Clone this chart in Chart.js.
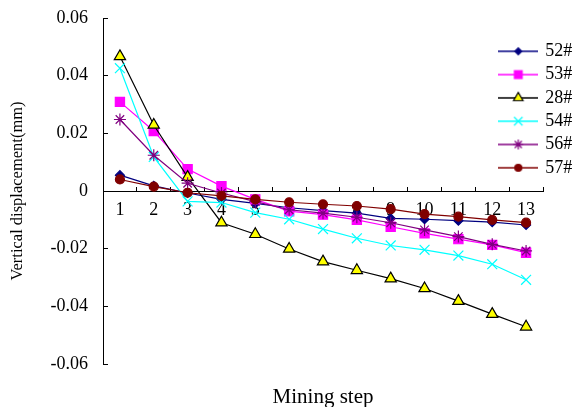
<!DOCTYPE html>
<html>
<head>
<meta charset="utf-8">
<script src="https://cdn.jsdelivr.net/npm/chart.js@4/dist/chart.umd.min.js"></script>
<style>
  html, body { margin: 0; padding: 0; background: #fff; }
  #wrap { width: 580px; height: 407px; }
</style>
</head>
<body>
<div id="wrap"><canvas id="chart" width="580" height="407"></canvas></div>
<script>
// mining steps
const steps = ['1', '2', '3', '4', '5', '6', '7', '8', '9', '10', '11', '12', '13']

// vertical displacement (mm) per monitoring point
const p52 = [0.0055, 0.0018, -0.0007, -0.0029, -0.0043, -0.0058, -0.0068, -0.0077, -0.0095, -0.0098, -0.0103, -0.0108, -0.0118]
const p53 = [0.0309, 0.0208, 0.0076, 0.0017, -0.0029, -0.0070, -0.0082, -0.0100, -0.0124, -0.0147, -0.0167, -0.0187, -0.0214]
const p28 = [0.0467, 0.0229, 0.0048, -0.0110, -0.0150, -0.0201, -0.0245, -0.0275, -0.0304, -0.0338, -0.0382, -0.0427, -0.0471]
const p54 = [0.0426, 0.0118, -0.0036, -0.0040, -0.0075, -0.0098, -0.0132, -0.0164, -0.0189, -0.0204, -0.0224, -0.0254, -0.0308]
const p56 = [0.0248, 0.0124, 0.0027, -0.0007, -0.0037, -0.0065, -0.0077, -0.0091, -0.0110, -0.0135, -0.0158, -0.0185, -0.0208]
const p57 = [0.0040, 0.0015, -0.0006, -0.0017, -0.0029, -0.0039, -0.0046, -0.0052, -0.0063, -0.0080, -0.0089, -0.0100, -0.0110]

const yTicks = [-0.06, -0.04, -0.02, 0, 0.02, 0.04, 0.06]

const serif = 'Liberation Serif'

const series = [
  { label: '52#', data: p52, line: '#000080', fill: '#000080', edge: '#000080', style: 'rectRot', r: 4.5 },
  { label: '53#', data: p53, line: '#ff00ff', fill: '#ff00ff', edge: '#ff00ff', style: 'rect', r: 6.5 },
  { label: '28#', data: p28, line: '#000000', fill: '#ffff00', edge: '#000000', style: 'triangle', r: 6.5 },
  { label: '54#', data: p54, line: '#00ffff', fill: '#00ffff', edge: '#00ffff', style: 'crossRot', r: 7 },
  { label: '56#', data: p56, line: '#800080', fill: '#800080', edge: '#800080', style: 'star', r: 6 },
  { label: '57#', data: p57, line: '#800000', fill: '#800000', edge: '#800000', style: 'circle', r: 4.5 }
]

// legend swatch: short line with the marker on it
function swatch(s) {
  const c = document.createElement('canvas')
  c.width = 40; c.height = 16
  const ctx = c.getContext('2d')
  ctx.strokeStyle = s.line
  ctx.lineWidth = 1.3
  ctx.beginPath(); ctx.moveTo(0, 8); ctx.lineTo(40, 8); ctx.stroke()
  ctx.fillStyle = s.fill
  ctx.strokeStyle = s.edge
  ctx.lineWidth = 1.2
  Chart.helpers.drawPoint(ctx, { pointStyle: s.style, radius: s.r - 1, borderWidth: 1.2, rotation: 0 }, 20, 8)
  return c
}

const datasets = series.map((s, i) => ({
  label: s.label,
  data: s.data,
  borderColor: s.line,
  borderWidth: 1.2,
  backgroundColor: s.fill,
  pointStyle: s.style,
  pointRadius: s.r,
  pointBackgroundColor: s.fill,
  pointBorderColor: s.edge,
  pointBorderWidth: 1.2,
  tension: 0,
  order: series.length - i,
  swatch: swatch(s)
}))

const placeLegend = {
  id: 'placeLegend',
  beforeDraw(chart) {
    const lg = chart.legend
    const w = lg.width, h = lg.height
    lg.left = 495; lg.right = 495 + w
    lg.top = 37; lg.bottom = 37 + h
  }
}

new Chart(document.getElementById('chart'), {
  type: 'line',
  data: { labels: steps, datasets },
  plugins: [placeLegend],
  options: {
    responsive: false,
    animation: false,
    devicePixelRatio: 1,
    layout: { padding: { left: 0, top: 18, right: 37, bottom: 0 } },
    scales: {
      x: {
        type: 'category',
        position: { y: 0 },
        offset: true,
        border: { display: true, color: '#000', width: 1 },
        grid: { offset: true, drawOnChartArea: false, drawTicks: true, tickLength: -5, color: '#000' },
        ticks: { color: '#000', font: { family: serif, size: 18 }, padding: 13, maxRotation: 0, autoSkip: false },
        afterFit(s) { s.height = 0 }
      },
      x2: {
        type: 'category',
        position: 'bottom',
        grid: { display: false },
        border: { display: false },
        ticks: { display: false },
        title: { display: true, text: 'Mining step', color: '#000', font: { family: serif, size: 21 }, padding: { top: 0, bottom: -3 } },
        afterFit(s) { s.height = 43 }
      },
      y: {
        min: -0.06,
        max: 0.06,
        border: { display: true, color: '#000', width: 1 },
        grid: { drawOnChartArea: false, drawTicks: true, tickLength: -5, color: '#000' },
        afterBuildTicks(s) { s.ticks = yTicks.map(v => ({ value: v })) },
        ticks: {
          color: '#000',
          font: { family: serif, size: 18 },
          padding: 20,
          callback: v => Math.abs(v) < 1e-9 ? '0' : v.toFixed(2)
        },
        title: { display: true, text: 'Vertical displacement(mm)', color: '#000', font: { family: serif, size: 16.5 }, padding: { top: 8, bottom: 0 } },
        afterFit(s) {
          s.width = 103
          s.paddingTop = 10
          s.paddingBottom = 10
        }
      }
    },
    plugins: {
      tooltip: { enabled: false },
      legend: {
        position: 'chartArea',
        align: 'start',
        labels: {
          color: '#000',
          font: { family: serif, size: 18 },
          usePointStyle: true,
          pointStyleWidth: 36,
          padding: 5.3,
          sort: (a, b) => a.datasetIndex - b.datasetIndex,
          generateLabels(chart) {
            return chart.data.datasets.map((d, i) => ({
              text: d.label,
              datasetIndex: i,
              pointStyle: d.swatch,
              fillStyle: d.backgroundColor,
              strokeStyle: d.borderColor,
              lineWidth: 0,
              hidden: false,
              fontColor: '#000'
            }))
          }
        }
      }
    }
  }
})
</script>
</body>
</html>
